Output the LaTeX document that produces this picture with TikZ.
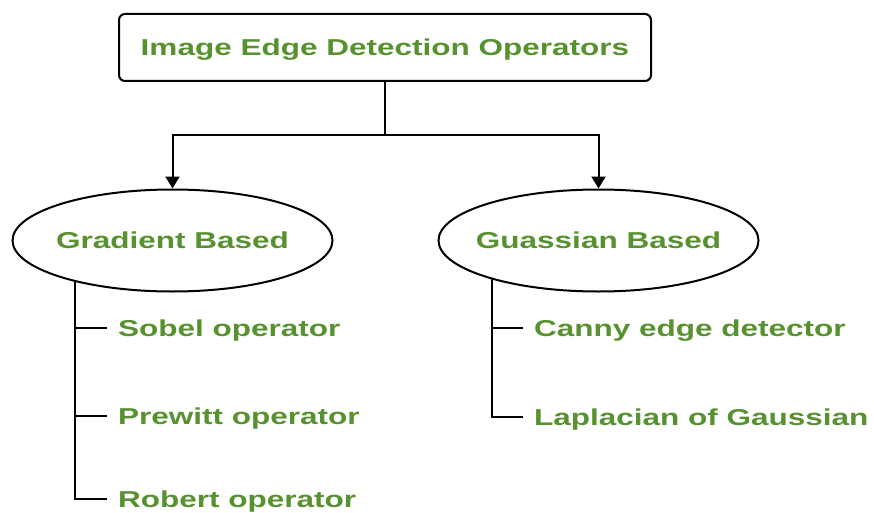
\documentclass[tikz,border=0pt]{standalone}
\usepackage{fontspec}
\usetikzlibrary{shapes.geometric,arrows.meta}
\newfontfamily\labelfont[FakeStretch=1.37]{Liberation Sans}
\definecolor{labelgreen}{RGB}{88,146,48}
% the ellipse size is fixed by its style, not by the width of its text
\newcommand{\groupname}[1]{\makebox[0pt]{#1}}

\begin{document}
\begin{tikzpicture}[x=1pt,y=-1pt,
  line width=2pt,
  txt/.style={font=\labelfont\bfseries\fontsize{23}{26}\selectfont, text=labelgreen,
              text height=16.5pt, text depth=0pt},
  titlebox/.style={txt, draw, rounded corners=6pt, minimum width=532pt,
                   minimum height=67pt, inner sep=0pt},
  group/.style={txt, draw, ellipse, minimum width=320pt, minimum height=102pt,
                inner sep=0pt},
  leaf/.style={txt, anchor=west, inner xsep=10pt, inner ysep=0pt},
  tip/.style={-{Triangle[width=14pt,length=12pt]}}
]
\useasboundingbox (0,0) rectangle (874,513);
\fill[white] (0,0) rectangle (874,513);
\clip (0,0) rectangle (874,513);

% root and the two families
\node[titlebox] (root) at (385,47.5) {Image Edge Detection Operators};
\node[group] (grad) at (172.5,240.5) {\groupname{Gradient Based}};
\node[group] (gauss) at (598.5,240.5) {\groupname{Guassian Based}};

% split point under the root
\coordinate (split) at (385,135);
\draw (root.south) -- (split);
\draw[tip] (split) -| (grad.north);
\draw[tip] (split) -| (gauss.north);

% gradient based operators
\node[leaf] (sobel)   at (107,328) {Sobel operator};
\node[leaf] (prewitt) at (107,416) {Prewitt operator};
\node[leaf] (robert)  at (107,499) {Robert operator};
\draw (grad.203.5) |- (sobel.west);
\draw (grad.203.5) |- (prewitt.west);
\draw (grad.203.5) |- (robert.west);

% gaussian based operators
\node[leaf] (canny) at (523,328) {Canny edge detector};
\node[leaf] (log)   at (523,417) {Laplacian of Gaussian};
\draw (gauss.200) |- (canny.west);
\draw (gauss.200) |- (log.west);
\end{tikzpicture}
\end{document}
